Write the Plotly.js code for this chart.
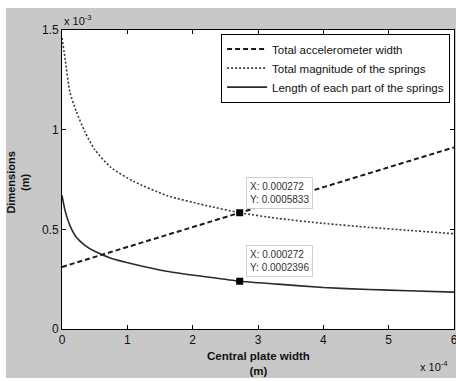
<!DOCTYPE html>
<html>
<head>
<meta charset="utf-8">
<script src="https://cdn.plot.ly/plotly-3.0.1.min.js"></script>
<style>
  html, body { margin: 0; padding: 0; background: #ffffff; }
  #chart { position: absolute; left: 6px; top: 8px; width: 450px; height: 370px; }
</style>
</head>
<body>
<div id="chart"></div>
<script>
// Central plate width (m)
var plateWidth = [0, 0.05e-4, 0.12e-4, 0.22e-4, 0.35e-4, 0.5e-4, 0.75e-4, 1.1e-4, 1.6e-4, 2.2e-4, 2.72e-4, 3.3e-4, 4.0e-4, 4.7e-4, 5.3e-4, 6.0e-4];
// Total magnitude of the springs (m)
var springsTotal = [1.46e-3, 1.35e-3, 1.19e-3, 1.09e-3, 0.99e-3, 0.90e-3, 0.81e-3, 0.74e-3, 0.67e-3, 0.62e-3, 0.5833e-3, 0.555e-3, 0.53e-3, 0.51e-3, 0.495e-3, 0.478e-3];
// Length of each part of the springs (m)
var springPart = [0.67e-3, 0.59e-3, 0.52e-3, 0.46e-3, 0.42e-3, 0.39e-3, 0.355e-3, 0.325e-3, 0.29e-3, 0.262e-3, 0.2396e-3, 0.225e-3, 0.208e-3, 0.198e-3, 0.192e-3, 0.185e-3];
// Total accelerometer width (m)
var accelX = [0, 6.0e-4];
var accelWidth = [0.3113e-3, 0.9113e-3];
// Data tips
var tipX = [0.000272, 0.000272];
var tipY = [0.0005833, 0.0002396];
var tipLabels = ["X: 0.000272<br>Y: 0.0005833", "X: 0.000272<br>Y: 0.0002396"];
// Ticks
var xTickVals = [0, 1e-4, 2e-4, 3e-4, 4e-4, 5e-4, 6e-4];
var xTickText = ["0", "1", "2", "3", "4", "5", "6"];
var yTickVals = [0, 0.5e-3, 1e-3, 1.5e-3];
var yTickText = ["0", "0.5", "1", "1.5"];

var FONT = "Liberation Sans, Arial, sans-serif";

var traces = [
  {x: accelX, y: accelWidth, mode: "lines", name: "Total accelerometer width",
   line: {color: "#1a1a1a", width: 2, dash: "5px,3px"}, hoverinfo: "skip"},
  {x: plateWidth, y: springsTotal, mode: "lines", name: "Total magnitude of the springs",
   line: {color: "#3a3a3a", width: 1.6, dash: "2px,2px", shape: "spline", smoothing: 0.6}, hoverinfo: "skip"},
  {x: plateWidth, y: springPart, mode: "lines", name: "Length of each part of the springs",
   line: {color: "#2a2a2a", width: 1.6, shape: "spline", smoothing: 0.6}, hoverinfo: "skip"},
  {x: tipX, y: tipY, mode: "markers", showlegend: false,
   marker: {symbol: "square", size: 7, color: "#000"}, hoverinfo: "skip"}
];

var annotations = [];
for (var i = 0; i < tipX.length; i++) {
  annotations.push({
    x: tipX[i], y: tipY[i], xref: "x", yref: "y", text: tipLabels[i],
    showarrow: false, xanchor: "left", yanchor: "bottom", xshift: 6, yshift: 4,
    align: "left", font: {family: FONT, size: 10, color: "#333"},
    bgcolor: "#ffffff", bordercolor: "#d0d0d0", borderwidth: 1, borderpad: 3
  });
}
annotations.push({
  xref: "paper", yref: "paper", x: -0.112, y: 0.49, xanchor: "center", yanchor: "middle",
  textangle: -90, showarrow: false, text: "<b>Dimensions</b><br><b>(m)</b>",
  font: {family: FONT, size: 11, color: "#111"}
});
annotations.push({
  xref: "paper", yref: "paper", x: 0.5, y: -0.117, xanchor: "center", yanchor: "middle",
  showarrow: false, text: "<b>Central plate width</b><br><b>(m)</b>",
  font: {family: FONT, size: 11.5, color: "#111"}
});
annotations.push({
  xref: "paper", yref: "paper", x: 0, y: 1.0, xanchor: "left", yanchor: "bottom", yshift: 1,
  showarrow: false, text: "x 10<sup>-3</sup>",
  font: {family: FONT, size: 11, color: "#111"}
});
annotations.push({
  xref: "paper", yref: "paper", x: 0.99, y: -0.095, xanchor: "right", yanchor: "top",
  showarrow: false, text: "x 10<sup>-4</sup>",
  font: {family: FONT, size: 11, color: "#111"}
});

var layout = {
  width: 450, height: 370,
  margin: {l: 56, r: 2, t: 21.5, b: 48.5},
  paper_bgcolor: "#c8c8c8", plot_bgcolor: "#ffffff",
  font: {family: FONT, size: 12, color: "#111"},
  showlegend: true,
  legend: {x: 0.99, y: 0.988, xanchor: "right", yanchor: "top",
    bgcolor: "#ffffff", bordercolor: "#000", borderwidth: 1, itemwidth: 40,
    font: {family: FONT, size: 11.5, color: "#111"}, tracegroupgap: 0},
  xaxis: {range: [0, 6e-4], tickvals: xTickVals, ticktext: xTickText, ticklabeloverflow: "allow",
    ticks: "inside", ticklen: 4, tickcolor: "#000", showline: true, linecolor: "#000",
    linewidth: 1, mirror: "ticks", showgrid: false, zeroline: false, fixedrange: true},
  yaxis: {range: [0, 1.5e-3], tickvals: yTickVals, ticktext: yTickText, ticklabeloverflow: "allow",
    ticks: "inside", ticklen: 4, tickcolor: "#000", showline: true, linecolor: "#000",
    linewidth: 1, mirror: "ticks", showgrid: false, zeroline: false, fixedrange: true},
  annotations: annotations
};

Plotly.newPlot("chart", traces, layout, {displayModeBar: false, staticPlot: true});
</script>
</body>
</html>
